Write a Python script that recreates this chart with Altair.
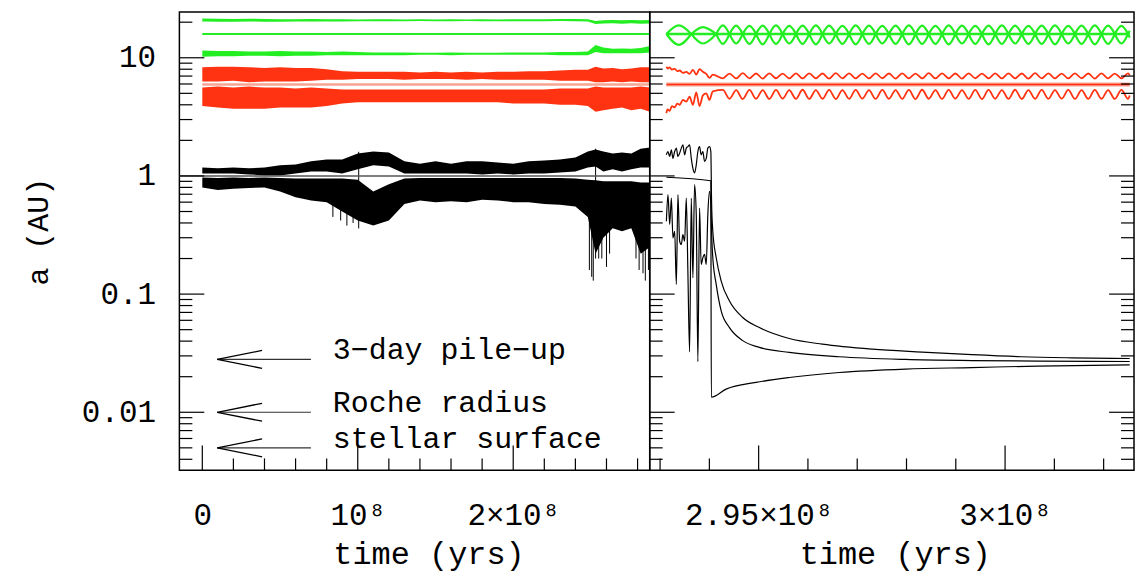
import altair as alt
import pandas as pd

FONT = "Liberation Mono"
GREEN = "#22ee22"
RED = "#ff3311"
RED_LIGHT = "#f7a492"
BLACK = "#000000"

# ---------------- left panel (time in Myr) ----------------
L_t = [0, 10, 20, 30, 40, 50, 60, 70, 80, 90, 100, 110, 120, 130, 140, 150, 160,
       170, 180, 190, 200, 210, 220, 230, 240, 248, 253, 258, 264, 270, 276, 282, 288]

green_Q_hi = [21.5, 21.4, 21.3, 21.4, 21.3, 21.2, 21.2, 21.3, 21.2, 21.2, 21.1, 21.2, 21.2, 21.1, 21.2, 21.1, 21.2,
              21.1, 21.2, 21.1, 21.2, 21.2, 21.2, 21.3, 21.3, 21.2, 20.5, 20.8, 20.9, 20.8, 20.9, 20.8, 20.9]
green_Q_lo = [20.3, 20.2, 20.2, 20.3, 20.2, 20.2, 20.3, 20.3, 20.3, 20.3, 20.4, 20.4, 20.4, 20.4, 20.5, 20.4, 20.4,
              20.5, 20.4, 20.4, 20.4, 20.4, 20.4, 20.5, 20.4, 20.3, 19.3, 19.5, 19.6, 19.4, 19.6, 19.4, 19.5]
green_q_hi = [11.5, 11.4, 11.4, 11.3, 11.3, 11.4, 11.3, 11.3, 11.2, 11.3, 11.2, 11.1, 11.1, 11.1, 11.0, 11.0, 11.1,
              11.0, 11.0, 11.0, 11.1, 11.1, 11.1, 11.2, 11.2, 11.3, 12.8, 12.2, 11.9, 12.0, 11.9, 12.1, 12.6]
green_q_lo = [10.2, 10.3, 10.3, 10.4, 10.4, 10.3, 10.4, 10.4, 10.5, 10.5, 10.5, 10.5, 10.5, 10.5, 10.6, 10.6, 10.5,
              10.6, 10.6, 10.6, 10.6, 10.6, 10.6, 10.5, 10.5, 10.5, 11.2, 10.9, 10.9, 10.9, 10.9, 10.9, 11.1]
red_Q_hi = [8.3, 8.4, 8.4, 8.3, 8.2, 8.3, 8.2, 8.2, 8.0, 7.7, 7.6, 7.6, 7.6, 7.6, 7.5, 7.6, 7.5,
            7.6, 7.5, 7.6, 7.6, 7.7, 7.7, 7.8, 7.9, 7.9, 8.4, 8.1, 8.2, 8.0, 8.1, 8.3, 8.3]
red_Q_lo = [6.3, 6.3, 6.4, 6.2, 6.3, 6.3, 6.3, 6.4, 6.5, 6.5, 6.6, 6.6, 6.6, 6.5, 6.6, 6.6, 6.6,
            6.5, 6.6, 6.5, 6.5, 6.5, 6.5, 6.4, 6.4, 6.4, 6.2, 6.2, 6.3, 6.2, 6.3, 6.2, 6.2]
red_q_hi = [5.6, 5.7, 5.6, 5.7, 5.6, 5.6, 5.5, 5.6, 5.5, 5.4, 5.4, 5.4, 5.4, 5.4, 5.4, 5.4, 5.4,
            5.4, 5.4, 5.4, 5.4, 5.4, 5.4, 5.5, 5.5, 5.5, 5.7, 5.6, 5.6, 5.6, 5.6, 5.7, 5.6]
red_q_lo = [3.9, 3.8, 3.7, 3.7, 3.7, 3.8, 3.8, 3.8, 3.9, 4.1, 4.2, 4.2, 4.2, 4.2, 4.2, 4.2, 4.2,
            4.2, 4.2, 4.2, 4.1, 4.1, 4.1, 4.0, 4.0, 3.9, 3.5, 3.6, 3.7, 3.8, 3.6, 3.7, 3.5]
black_Q_hi = [1.18, 1.16, 1.18, 1.16, 1.18, 1.23, 1.25, 1.33, 1.38, 1.38, 1.55, 1.61, 1.58, 1.33, 1.27, 1.33, 1.27,
              1.33, 1.33, 1.30, 1.27, 1.33, 1.35, 1.38, 1.43, 1.61, 1.67, 1.61, 1.55, 1.58, 1.55, 1.70, 1.74]
black_Q_lo = [1.05, 1.05, 1.05, 1.03, 1.01, 1.01, 1.05, 1.09, 1.09, 1.05, 1.14, 1.23, 1.20, 1.05, 1.05, 1.05, 1.05,
              1.05, 1.03, 1.05, 1.03, 1.05, 1.05, 1.07, 1.09, 1.18, 1.20, 1.09, 1.14, 1.09, 1.14, 1.18, 1.18]
black_q_hi = [0.97, 0.96, 0.97, 0.96, 0.97, 0.96, 0.95, 0.95, 0.95, 0.95, 0.93, 0.74, 0.85, 0.95, 0.96, 0.96, 0.96,
              0.96, 0.96, 0.96, 0.96, 0.96, 0.96, 0.96, 0.95, 0.93, 0.92, 0.90, 0.90, 0.90, 0.90, 0.88, 0.88]
black_q_lo = [0.80, 0.76, 0.78, 0.79, 0.80, 0.74, 0.66, 0.62, 0.60, 0.50, 0.42, 0.38, 0.42, 0.58, 0.62, 0.60, 0.61,
              0.60, 0.63, 0.62, 0.60, 0.60, 0.58, 0.57, 0.55, 0.45, 0.22, 0.30, 0.36, 0.34, 0.36, 0.22, 0.25]

drip_t = [84, 89, 93, 97, 100.6, 249, 250.5, 251.5, 253, 255, 257, 260, 262, 279, 281, 283.5, 285, 287]
drip_hi = [0.60, 0.55, 0.50, 0.50, 1.60, 0.50, 0.45, 0.40, 1.70, 0.40, 0.40, 0.40, 0.40, 0.50, 0.45, 0.40, 0.40, 0.40]
drip_lo = [0.45, 0.42, 0.38, 0.40, 0.36, 0.16, 0.14, 0.13, 0.20, 0.20, 0.20, 0.17, 0.22, 0.20, 0.16, 0.15, 0.13, 0.16]

green_a_L = [15.9, 15.9]
red_a_L = [5.95, 5.95]
aline_t_L = [0, 288]

annot_a = [0.028, 0.01, 0.005]
annot_text = ["3\u2212day pile\u2212up", "Roche radius", "stellar surface"]

# ---------------- right panel (time in Myr) ----------------
osc_t = [294.139, 294.274, 294.409, 294.543, 294.678, 294.813, 294.948, 295.082,
         295.217, 295.352, 295.487, 295.621, 295.756, 295.891, 296.026, 296.161,
         296.296, 296.430, 296.565, 296.700, 296.835, 296.969, 297.104, 297.239,
         297.374, 297.509, 297.643, 297.778, 297.913, 298.048, 298.182, 298.317,
         298.452, 298.587, 298.722, 298.856, 298.991, 299.126, 299.261, 299.395,
         299.530, 299.665, 299.800, 299.935, 300.069, 300.204, 300.339, 300.474,
         300.608, 300.743, 300.878, 301.013, 301.148, 301.282, 301.417, 301.552,
         301.687, 301.821, 301.956, 302.091, 302.226, 302.361, 302.495, 302.529]
green_Q_osc = [15.9, 18.8, 15.9, 18.7, 15.9, 18.6, 15.9, 18.7,
               15.9, 18.8, 15.9, 18.6, 15.9, 18.7, 15.9, 18.8,
               15.9, 18.7, 15.9, 18.6, 15.9, 18.8, 15.9, 18.7,
               15.9, 18.6, 15.9, 18.7, 15.9, 18.8, 15.9, 18.7,
               15.9, 18.6, 15.9, 18.8, 15.9, 18.7, 15.9, 18.6,
               15.9, 18.7, 15.9, 18.8, 15.9, 18.7, 15.9, 18.6,
               15.9, 18.7, 15.9, 18.8, 15.9, 18.6, 15.9, 18.7,
               15.9, 18.8, 15.9, 18.7, 15.9, 18.6, 15.9, 16.9]
green_q_osc = [15.9, 13.1, 15.9, 13.2, 15.9, 13.1, 15.9, 13.0,
               15.9, 13.1, 15.9, 13.2, 15.9, 13.1, 15.9, 13.0,
               15.9, 13.2, 15.9, 13.1, 15.9, 13.0, 15.9, 13.1,
               15.9, 13.2, 15.9, 13.1, 15.9, 13.0, 15.9, 13.1,
               15.9, 13.1, 15.9, 13.0, 15.9, 13.2, 15.9, 13.1,
               15.9, 13.0, 15.9, 13.1, 15.9, 13.2, 15.9, 13.1,
               15.9, 13.1, 15.9, 13.0, 15.9, 13.2, 15.9, 13.1,
               15.9, 13.0, 15.9, 13.1, 15.9, 13.2, 15.9, 14.8]
red_Q_osc = [7.38, 6.70, 7.35, 6.68, 7.40, 6.70, 7.36, 6.67,
             7.38, 6.71, 7.34, 6.69, 7.39, 6.68, 7.37, 6.70,
             7.36, 6.66, 7.40, 6.70, 7.37, 6.69, 7.35, 6.68,
             7.39, 6.71, 7.36, 6.67, 7.38, 6.70, 7.35, 6.69,
             7.40, 6.68, 7.37, 6.70, 7.36, 6.67, 7.39, 6.71,
             7.35, 6.69, 7.38, 6.68, 7.37, 6.70, 7.36, 6.66,
             7.40, 6.70, 7.37, 6.69, 7.35, 6.68, 7.39, 6.71,
             7.36, 6.67, 7.38, 6.70, 7.35, 6.69, 7.38, 7.10]
red_q_osc = [4.49, 5.34, 4.50, 5.32, 4.47, 5.35, 4.50, 5.33,
             4.48, 5.34, 4.51, 5.32, 4.49, 5.36, 4.48, 5.33,
             4.50, 5.35, 4.47, 5.33, 4.49, 5.34, 4.51, 5.32,
             4.48, 5.35, 4.50, 5.33, 4.49, 5.34, 4.47, 5.36,
             4.50, 5.32, 4.48, 5.34, 4.51, 5.33, 4.49, 5.35,
             4.47, 5.34, 4.50, 5.32, 4.49, 5.36, 4.48, 5.33,
             4.50, 5.35, 4.49, 5.33, 4.51, 5.34, 4.48, 5.32,
             4.49, 5.35, 4.50, 5.33, 4.48, 5.34, 4.49, 4.80]

green_early_t = [293.128, 293.380, 293.633, 293.868]
green_Q_early = [15.9, 18.8, 15.9, 18.2]
green_q_early = [15.9, 12.85, 15.9, 13.2]
red_Q_early_t = [293.128, 293.160, 293.195, 293.240, 293.296, 293.350, 293.397, 293.463, 293.532,
                 293.599, 293.666, 293.734, 293.801, 293.868, 293.937, 294.003, 294.070]
red_Q_early = [8.39, 8.10, 8.30, 7.95, 8.05, 7.70, 7.80, 7.45, 7.60,
               7.30, 7.90, 7.20, 8.00, 7.60, 7.30, 6.75, 7.20]
red_q_early_t = [293.128, 293.150, 293.195, 293.240, 293.296, 293.350, 293.397, 293.463, 293.532,
                 293.599, 293.666, 293.734, 293.801, 293.868, 293.937, 294.003, 294.070]
red_q_early = [3.40, 3.65, 3.55, 3.90, 3.80, 4.10, 4.00, 4.40, 4.25,
               4.68, 4.00, 5.10, 3.90, 4.80, 5.00, 4.40, 5.20]
aline_t_R = [293.128, 302.529]
green_a_R = [15.9, 15.9]
red_a_R = [5.95, 5.95]

blk_pre_t = [293.128, 293.160, 293.195, 293.229, 293.261, 293.296, 293.330, 293.362, 293.397, 293.431,
             293.463, 293.498, 293.532, 293.564, 293.599, 293.633, 293.666, 293.700, 293.734, 293.767,
             293.801, 293.834, 293.868, 293.902, 293.937, 293.969, 294.003, 294.030]
blk_Q_pre = [1.51, 1.61, 1.46, 1.66, 1.41, 1.61, 1.72, 1.46, 1.56, 1.72,
             1.83, 1.51, 1.72, 1.77, 1.83, 1.41, 1.16, 1.06, 1.24, 1.61,
             1.77, 1.51, 1.61, 1.33, 1.41, 1.72, 1.77, 1.61]
blk_q_pre = [0.413, 0.694, 0.388, 0.650, 0.299, 0.340, 0.121, 0.694, 0.280, 0.263,
             0.319, 0.280, 0.650, 0.157, 0.0325, 0.650, 0.1375, 0.843, 0.471, 0.0268,
             0.535, 0.178, 0.203, 0.217, 0.178, 0.471, 0.740, 0.572]
blk_Q_post_t = [294.045, 294.070, 294.139, 294.240, 294.408, 294.677, 295.014, 295.621,
                296.294, 297.305, 298.316, 299.327, 300.338, 301.349, 302.529]
blk_Q_post = [0.60, 0.34, 0.203, 0.129, 0.0873, 0.0634, 0.0521, 0.0421,
              0.0377, 0.0342, 0.0323, 0.0307, 0.0295, 0.0289, 0.0285]
blk_a_t = [293.128, 294.030, 294.035, 294.070, 294.139, 294.240, 294.408, 294.677, 295.014,
           295.621, 296.632, 297.980, 299.327, 300.675, 302.529]
blk_a = [0.975, 0.91, 0.50, 0.203, 0.121, 0.072, 0.052, 0.0404, 0.0354,
         0.0321, 0.0295, 0.0280, 0.0274, 0.0271, 0.0269]
blk_q_post_t = [294.040, 294.341, 294.947, 295.621, 296.632, 297.980, 299.327, 300.675, 302.529]
blk_q_post = [0.0134, 0.0157, 0.0179, 0.0197, 0.0217, 0.0232, 0.0239, 0.0246, 0.0252]

# ---------------- ticks ----------------
y_major = [0.01, 0.1, 1, 10]
y_minor = [0.004, 0.005, 0.006, 0.007, 0.008, 0.009,
           0.02, 0.03, 0.04, 0.05, 0.06, 0.07, 0.08, 0.09,
           0.2, 0.3, 0.4, 0.5, 0.6, 0.7, 0.8, 0.9,
           2, 3, 4, 5, 6, 7, 8, 9, 20]
xL_major = [0, 100, 200]
xL_minor = [20, 40, 60, 80, 120, 140, 160, 180, 220, 240, 260, 280]
xR_major = [295, 300]
xR_minor = [293, 294, 296, 297, 298, 299, 301, 302]

# ---------------- geometry ----------------
W_L, W_R, H = 472, 486, 460
ysc = alt.Scale(type="log", domain=[0.003224, 24.4], nice=False)
xscL = alt.Scale(domain=[-14.74, 287.82], nice=False, zero=False)
xscR = alt.Scale(domain=[292.79, 302.616], nice=False, zero=False)

y_axis = alt.Axis(values=y_major, format="~g", ticks=False, tickSize=0, domain=False, grid=False,
                  labelFont=FONT, labelFontSize=31, labelPadding=24, labelColor="black",
                  title="a (AU)", titleFont=FONT, titleFontSize=30, titleFontWeight="normal",
                  titleColor="black", titleX=-141, titleY=220, titleAngle=-90,
                  titleAlign="center", titleBaseline="middle")


def x_axis(values, expr, title_x):
    return alt.Axis(values=values, labelExpr=expr, ticks=False, tickSize=0, domain=False, grid=False,
                    labelFont=FONT, labelFontSize=31, labelPadding=54, labelBaseline="alphabetic",
                    labelColor="black", labelFlush=False, labelOverlap=False,
                    title="time (yrs)", titleFont=FONT, titleFontSize=32, titleFontWeight="normal",
                    titleColor="black", titleX=title_x, titleY=93, titleAlign="center",
                    titleBaseline="alphabetic")


xL_axis = x_axis(xL_major, "datum.value == 0 ? '0' : datum.value == 100 ? '10\u2078' : '2\u00d710\u2078'", 250)
xR_axis = x_axis(xR_major, "datum.value == 295 ? '2.95\u00d710\u2078' : '3\u00d710\u2078'", 246)


def make_panel(xsc, xax, yax):
    X = lambda: alt.X("t:Q", scale=xsc, axis=xax)
    Y = lambda f: alt.Y(f, scale=ysc, axis=yax)

    def band(ts, hi, lo, color):
        df = pd.DataFrame({"t": ts, "hi": hi, "lo": lo})
        return alt.Chart(df).mark_area(color=color, clip=True).encode(
            x=X(), y=Y("hi:Q"), y2="lo:Q")

    def line(ts, vals, color, width=1.6, interp="linear"):
        df = pd.DataFrame({"t": ts, "a": vals})
        return alt.Chart(df).mark_line(color=color, strokeWidth=width, clip=True,
                                       interpolate=interp).encode(
            x=X(), y=Y("a:Q"), order="t:Q")

    def lens_line(ts, vals, color, width=2.2):
        # node / peak / node triplets drawn as separate arcs
        rows = []
        for i, (t, v) in enumerate(zip(ts, vals)):
            k = i // 2
            rows.append({"t": t, "a": v, "seg": k})
            if i % 2 == 0 and i > 0:
                rows.append({"t": t, "a": v, "seg": k - 1})
        df = pd.DataFrame(rows)
        return alt.Chart(df).mark_line(color=color, strokeWidth=width, clip=True,
                                       interpolate="monotone").encode(
            x=X(), y=Y("a:Q"), detail="seg:N", order="t:Q")

    def yticks(vals, x0, x1):
        df = pd.DataFrame({"a": vals})
        return alt.Chart(df).mark_rule(color="black", strokeWidth=1.2).encode(
            x=alt.value(x0), x2=alt.value(x1), y=Y("a:Q"))

    def xticks(vals, length):
        df = pd.DataFrame({"t": vals})
        return alt.Chart(df).mark_rule(color="black", strokeWidth=1.2).encode(
            x=X(), y=alt.value(H), y2=alt.value(H - length))

    def rules(ts, hi, lo, color, width=1):
        df = pd.DataFrame({"t": ts, "hi": hi, "lo": lo})
        return alt.Chart(df).mark_rule(color=color, strokeWidth=width, clip=True).encode(
            x=X(), y=Y("hi:Q"), y2="lo:Q")

    return band, line, lens_line, yticks, xticks, rules, Y


# ---------------- left panel ----------------
band, line, lens_line, yticks, xticks, rules, YL = make_panel(xscL, xL_axis, y_axis)

ann = pd.DataFrame({"a": annot_a, "label": annot_text})
shaft = alt.Chart(ann).mark_rule(color="#333333", strokeWidth=1.2).encode(
    x=alt.value(38), x2=alt.value(132), y=YL("a:Q"))
head_up = alt.Chart(ann).mark_rule(color="black", strokeWidth=1.3, y2Offset=-9).encode(
    x=alt.value(38), x2=alt.value(83), y=YL("a:Q"), y2="a:Q")
head_dn = alt.Chart(ann).mark_rule(color="black", strokeWidth=1.3, y2Offset=9).encode(
    x=alt.value(38), x2=alt.value(83), y=YL("a:Q"), y2="a:Q")
ann_text = alt.Chart(ann).mark_text(align="left", baseline="alphabetic", font=FONT, fontSize=30,
                                    color="black").encode(
    x=alt.value(154), y=YL("a:Q"), text="label:N")

one_line = pd.DataFrame({"a": [1]})
unit_line = alt.Chart(one_line).mark_rule(color="#555555", strokeWidth=1.5).encode(
    x=alt.value(0), x2=alt.value(W_L), y=YL("a:Q"))
spacer = alt.Chart(one_line).mark_rule(color="white", strokeWidth=1).encode(
    x=alt.value(-170), y=alt.value(-1), y2=alt.value(0))
spacer_bottom = alt.Chart(one_line).mark_rule(color="white", strokeWidth=1).encode(
    x=alt.value(-170), y=alt.value(H + 99), y2=alt.value(H + 100))

left = alt.layer(
    spacer,
    spacer_bottom,
    band(L_t, green_Q_hi, green_Q_lo, GREEN),
    line(aline_t_L, green_a_L, GREEN, 2),
    band(L_t, green_q_hi, green_q_lo, GREEN),
    band(L_t, red_Q_hi, red_Q_lo, RED),
    band(L_t, red_q_hi, red_q_lo, RED),
    line(aline_t_L, red_a_L, RED_LIGHT, 2.5),
    band(L_t, black_Q_hi, black_Q_lo, BLACK),
    band(L_t, black_q_hi, black_q_lo, BLACK),
    rules(drip_t, drip_hi, drip_lo, BLACK),
    unit_line,
    shaft, head_up, head_dn, ann_text,
    yticks(y_major, 0, 25),
    yticks(y_minor, 0, 13),
    xticks(xL_major, 25),
    xticks(xL_minor, 12),
).properties(width=W_L, height=H)

# ---------------- right panel ----------------
band, line, lens_line, yticks, xticks, rules, YR = make_panel(xscR, xR_axis, None)

right = alt.layer(
    lens_line(green_early_t + osc_t, green_Q_early + green_Q_osc, GREEN),
    lens_line(green_early_t + osc_t, green_q_early + green_q_osc, GREEN),
    line(aline_t_R, green_a_R, GREEN, 2.4),
    line(red_Q_early_t + osc_t[1:], red_Q_early + red_Q_osc[1:], RED, 1.8, "monotone"),
    line(red_q_early_t + osc_t[1:], red_q_early + red_q_osc[1:], RED, 1.8, "monotone"),
    line(aline_t_R, red_a_R, RED_LIGHT, 4),
    line(aline_t_R, red_a_R, RED, 1.5),
    line(blk_pre_t + blk_Q_post_t, blk_Q_pre + blk_Q_post, BLACK, 1.2, "monotone"),
    line(blk_a_t, blk_a, BLACK, 1.2, "monotone"),
    line(blk_pre_t + blk_q_post_t, blk_q_pre + blk_q_post, BLACK, 1.2, "monotone"),
    yticks(y_major, 0, 25),
    yticks(y_minor, 0, 13),
    yticks(y_major, W_R - 25, W_R),
    yticks(y_minor, W_R - 13, W_R),
    xticks(xR_major, 25),
    xticks(xR_minor, 12),
).properties(width=W_R, height=H)

chart = alt.hconcat(left, right, spacing=0, bounds="flush").properties(
    padding=0
).configure(background="white").configure_view(stroke="black", strokeWidth=1.5)

chart.save("out.html", embed_options={"renderer": "svg", "actions": False})
